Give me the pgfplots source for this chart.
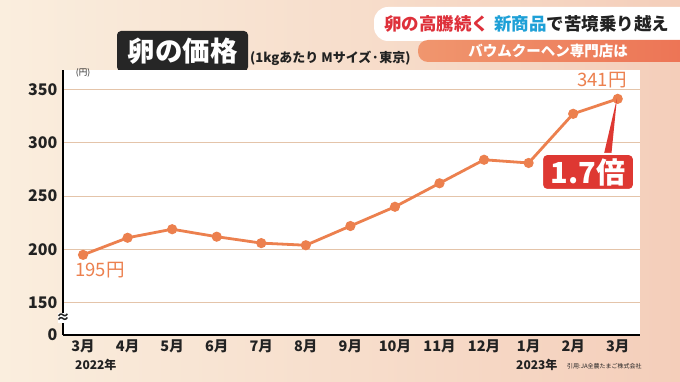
\documentclass[border=0pt]{standalone}
\usepackage{fontspec}
\setmainfont{Noto Sans CJK JP}
\usepackage{pgfplots}
\pgfplotsset{compat=1.18}
\definecolor{bgl}{RGB}{250,238,222}
\definecolor{bgr}{RGB}{244,206,186}
\definecolor{lineo}{RGB}{236,128,78}
\definecolor{gridc}{RGB}{228,196,170}
\definecolor{txtd}{RGB}{34,34,34}
\definecolor{redt}{RGB}{222,48,58}
\definecolor{bluet}{RGB}{30,160,215}
\definecolor{bandl}{RGB}{240,150,110}
\definecolor{bandr}{RGB}{236,112,82}
\definecolor{boxred}{RGB}{222,56,50}
\begin{document}
\begin{tikzpicture}[x=1pt,y=1pt]
\useasboundingbox (0,0) rectangle (680,-382);
\shade[left color=bgl, right color=bgr] (0,0) rectangle (680,-382);
% top banner
\fill[white, rounded corners=14pt] (374,-7) rectangle (720,-41);
\shade[left color=bandl, right color=bandr, rounded corners=10pt] (418,-40) rectangle (720,-62);
\node[anchor=west, font=\bfseries\fontsize{17.5}{18}\selectfont, inner sep=0pt] at (384,-24)
  {\textcolor{redt}{卵の高騰続く}\hspace{5pt}\textcolor{bluet}{新商品}\textcolor{txtd}{で苦境乗り越え}};
\node[font=\bfseries\fontsize{14.5}{15}\selectfont, text=white, inner sep=0pt] at (548,-51) {バウムクーヘン専門店は};
% title
\fill[black!85, rounded corners=4pt] (117,-31) rectangle (248,-71);
\node[font=\bfseries\fontsize{27.5}{28}\selectfont, text=white, inner sep=0pt] at (182.5,-51) {卵の価格};
\node[anchor=west, font=\bfseries\fontsize{13}{13}\selectfont, text=txtd, inner sep=0pt] at (250,-58) {(1kgあたり\hspace{3pt}Mサイズ·東京)};
\begin{axis}[
  at={(63pt,-335pt)}, anchor=south west,
  scale only axis, width=577pt, height=265pt,
  xmin=-0.45, xmax=12.5, ymin=120, ymax=368,
  axis lines*=left,
  axis line style={line width=2.5pt, black},
  axis background/.style={fill=white},
  clip=false,
  ytick={150,200,250,300,350},
  extra y ticks={120}, extra y tick labels={0},
  extra y tick style={grid=none},
  ymajorgrids, grid style={gridc, line width=1pt},
  xtick={0,...,12},
  xticklabels={3月,4月,5月,6月,7月,8月,9月,10月,11月,12月,1月,2月,3月},
  major tick length=0pt,
  /pgf/number format/assume math mode=true,
  y tick label style={font=\bfseries\fontsize{16}{16}\selectfont, text=txtd, xshift=-2pt},
  x tick label style={font=\bfseries\fontsize{14.5}{15}\selectfont, text=txtd, yshift=-1pt},
]
\addplot[lineo, line width=2.8pt, mark=*, mark size=3.6pt, mark options={fill=lineo, draw=lineo}]
 coordinates {(0,195) (1,211) (2,219) (3,212) (4,206) (5,204) (6,222) (7,240) (8,262) (9,284) (10,281) (11,327) (12,341)};
\end{axis}
% annotations
\fill[white] (58,-313) rectangle (68,-323);
\node[font=\bfseries\fontsize{14}{14}\selectfont, text=txtd, inner sep=0pt] at (63,-318) {≈};
\node[font=\fontsize{8.5}{9}\selectfont, text=txtd, inner sep=0pt] at (83,-73) {(円)};
\node[font=\fontsize{18.5}{18}\selectfont, text=lineo, inner sep=0pt] at (100,-270) {195円};
\node[font=\fontsize{18.5}{18}\selectfont, text=lineo, inner sep=0pt] at (602,-80) {341円};
\fill[boxred] (603,-158) -- (611,-158) -- (617,-98) -- cycle;
\node[fill=boxred, draw=white, line width=2pt, rounded corners=5pt, minimum width=92pt, minimum height=36pt,
  font=\bfseries\fontsize{29}{29}\selectfont, text=white, inner sep=0pt] at (588,-172) {1.7倍};
\node[anchor=west, font=\bfseries\fontsize{12}{12}\selectfont, text=txtd, inner sep=0pt] at (75,-365) {2022年};
\node[anchor=west, font=\bfseries\fontsize{12}{12}\selectfont, text=txtd, inner sep=0pt] at (516,-365) {2023年};
\node[anchor=west, font=\fontsize{6}{6}\selectfont, text=txtd, inner sep=0pt] at (567,-366) {引用:JA全農たまご株式会社};
\end{tikzpicture}
\end{document}
